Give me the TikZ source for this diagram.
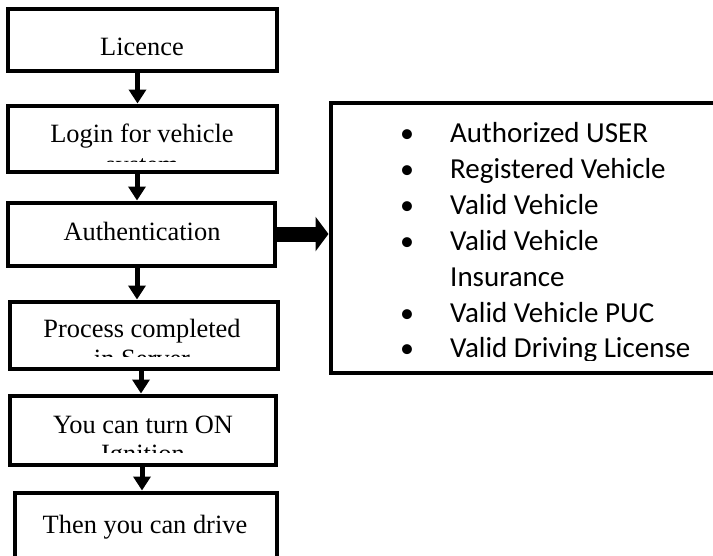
\documentclass[tikz,border=0pt]{standalone}
\usepackage{fontspec}
\newfontfamily\tnrfont{Liberation Serif}
\newfontfamily\calibfont{Carlito}
\usetikzlibrary{arrows.meta}
\begin{document}
\begin{tikzpicture}[x=1pt,y=-1pt,
  box/.style={draw,line width=4pt,inner sep=0pt,fill=white},
  lbl/.style={anchor=base,inner sep=0pt,font=\tnrfont\fontsize{26.4}{30}\selectfont},
  itm/.style={anchor=base west,inner sep=0pt,font=\calibfont\fontsize{29}{36}\selectfont},
  bul/.style={anchor=base,inner sep=0pt,font=\calibfont\fontsize{28}{36}\selectfont},
  varr/.style={line width=5pt,-{Triangle[length=14pt,width=17pt]}},
  harr/.style={line width=15pt,-{Triangle[length=13pt,width=34pt]}}]
\clip (0,0) rectangle (713,555);
\fill[white] (0,0) rectangle (713,555);
% boxes
\node[box,minimum width=269pt,minimum height=62pt] (b1) at (142.5,39.5) {};
\node[box,minimum width=269pt,minimum height=66pt] (b2) at (142.5,138.5) {};
\node[box,minimum width=267pt,minimum height=63pt] (b3) at (141.5,234) {};
\node[box,minimum width=268pt,minimum height=67pt] (b4) at (143.5,335) {};
\node[box,minimum width=266pt,minimum height=69pt] (b5) at (142.5,430) {};
\node[box,minimum width=262pt,minimum height=72.5pt] (b6) at (145.5,528.75) {};
\node[box,minimum width=400pt,minimum height=270pt] (rb) at (530.5,237.5) {};
% labels
\node[lbl] (t1) at (142,55) {Licence};
\begin{scope}
\clip (12,109) rectangle (273,161.5);
\node[lbl] (t2) at (142,142) {Login for vehicle};
\node[lbl] (t2b) at (142,173) {system};
\end{scope}
\node[lbl] (t3) at (142,240) {Authentication};
\begin{scope}
\clip (13,305) rectangle (274,356);
\node[lbl] (t4) at (142,337) {Process completed};
\node[lbl] (t4b) at (142,367.5) {in Server};
\end{scope}
\begin{scope}
\clip (13,399) rectangle (272,452);
\node[lbl] (t5) at (143,433) {You can turn ON};
\node[lbl] (t5b) at (143,462.5) {Ignition};
\end{scope}
\node[lbl] (t6) at (145,533) {Then you can drive};
% list
\begin{scope}
\clip (333,105) rectangle (713,360);
\node[bul] (u1) at (407,142) {•};
\node[itm] (i1) at (450,142) {Authorized USER};
\node[bul] (u2) at (407,178) {•};
\node[itm] (i2) at (450,178) {Registered Vehicle};
\node[bul] (u3) at (407,214) {•};
\node[itm] (i3) at (450,214) {Valid Vehicle};
\node[bul] (u4) at (407,250) {•};
\node[itm] (i4) at (450,250) {Valid Vehicle};
\node[itm] (i4b) at (450,286) {Insurance};
\node[bul] (u5) at (407,322) {•};
\node[itm] (i5) at (450,322) {Valid Vehicle PUC};
\node[bul] (u6) at (407,357.5) {•};
\node[itm] (i6) at (450,357.5) {Valid Driving License};
\end{scope}
% arrows
\draw[varr] ([xshift=-5pt]b1.south) -- ([xshift=-5pt]b1.south |- b2.north);
\draw[varr] ([xshift=-5.5pt]b2.south) -- ([xshift=-5.5pt]b2.south |- b3.north);
\draw[varr] ([xshift=-4.5pt]b3.south) -- ([xshift=-4.5pt]b3.south |- b4.north);
\draw[varr] ([xshift=-2.5pt]b4.south) -- ([xshift=-2.5pt]b4.south |- b5.north);
\draw[varr] ([xshift=-0.5pt]b5.south) -- ([xshift=-0.5pt]b5.south |- b6.north);
\draw[harr] (b3.east) -- (b3.east -| rb.west);
\end{tikzpicture}
\end{document}
